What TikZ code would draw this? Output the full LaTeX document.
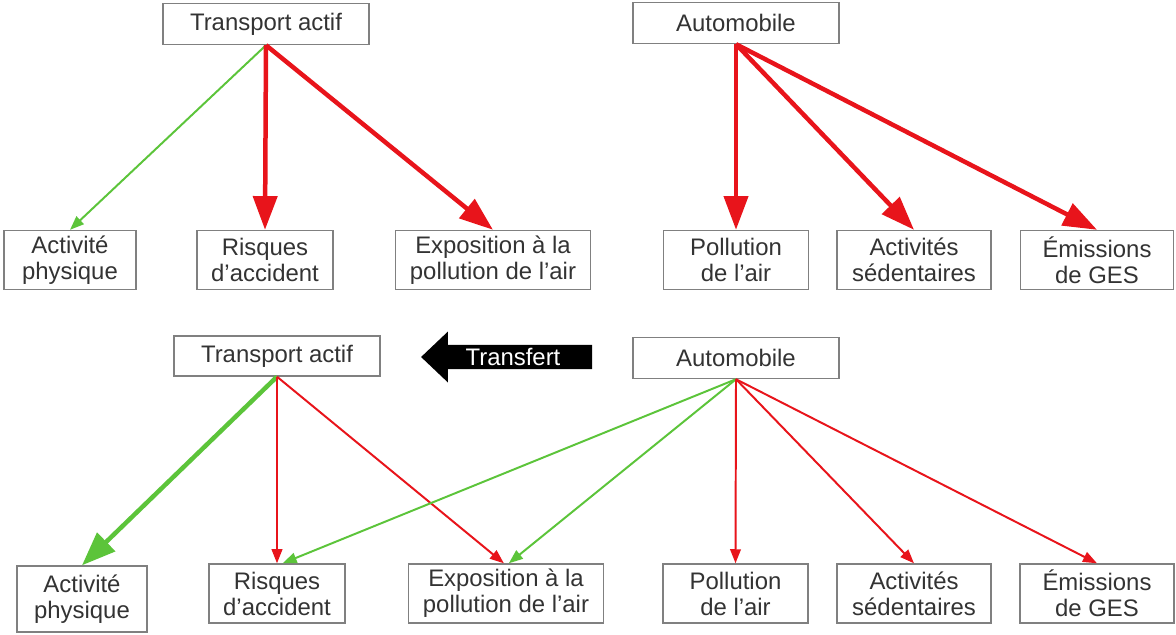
\documentclass[tikz,border=0pt]{standalone}
\usepackage{fontspec}
\setmainfont{Liberation Sans}
\usetikzlibrary{arrows.meta,shapes.arrows}
\definecolor{ink}{HTML}{333333}
\definecolor{boxline}{HTML}{808080}
\definecolor{gain}{HTML}{5CC43A}
\definecolor{harm}{HTML}{E8141B}
\newcommand{\boxfont}{\fontsize{17}{18.5}\selectfont}
\tikzset{
 every node/.append style={font=\boxfont,text=ink,align=center},
 box/.style={draw=boxline,fill=white,line width=1pt,inner sep=2pt},
 wd/.style={minimum width=#1*0.025cm},
 ht/.style={minimum height=#1*0.025cm},
 bigharm/.style={draw=harm,line width=3.2pt,-{Triangle[length=24pt,width=17pt]}},
 thinharm/.style={draw=harm,line width=1.4pt,-{Triangle[length=10pt,width=7.5pt]}},
 biggain/.style={draw=gain,line width=3.2pt,-{Triangle[length=24pt,width=18pt]}},
 thingain/.style={draw=gain,line width=1.4pt,-{Triangle[length=10pt,width=7.5pt]}},
 shiftarrow/.style={single arrow,shape border rotate=180,fill=black,text=white,
  minimum height=171*0.025cm,minimum width=51*0.025cm,single arrow head extend=13*0.025cm,
  single arrow tip angle=87,inner xsep=2pt,inner ysep=2pt},
}

\begin{document}
\begin{tikzpicture}[x=0.025cm,y=-0.025cm]

\useasboundingbox (0,0) rectangle (1176,634);
% before the shift
\node[box,wd=206,ht=41] (ta1) at (266,24) {Transport actif};
\node[box,wd=206,ht=41] (auto1) at (736,23) {Automobile};
\node[box,wd=132,ht=59] (phys1) at (70,260) {Activité\\physique};
\node[box,wd=136,ht=59] (risk1) at (265,260) {Risques\\d’accident};
\node[box,wd=195,ht=59] (expo1) at (493,260) {Exposition à la\\pollution de l’air};
\node[box,wd=145,ht=59] (poll1) at (736,260) {Pollution\\de l’air};
\node[box,wd=154,ht=59] (sed1) at (914,260) {Activités\\sédentaires};
\node[box,wd=153,ht=59] (ges1) at (1097,260) {Émissions\\de GES};
\draw[thingain] (ta1.south) -- (phys1.north);
\draw[bigharm] (ta1.south) -- (risk1.north); \draw[bigharm] (ta1.south) -- (expo1.north);
\draw[bigharm] (auto1.south) -- (poll1.north); \draw[bigharm] (auto1.south) -- (sed1.north);
\draw[bigharm] (auto1.south) -- (ges1.north);
% after the shift
\node[box,wd=206,ht=40] (ta2) at (277,356) {Transport actif};
\node[shiftarrow] (transfert) at (513,357) {Transfert};
\node[box,wd=206,ht=41] (auto2) at (736,358) {Automobile};
\node[box,wd=130,ht=66] (phys2) at (82,599) {Activité\\physique};
\node[box,wd=136,ht=59] (risk2) at (277,593.5) {Risques\\d’accident};
\node[box,wd=195,ht=59] (expo2) at (506,593.5) {Exposition à la\\pollution de l’air};
\node[box,wd=145,ht=59] (poll2) at (735.5,593.5) {Pollution\\de l’air};
\node[box,wd=154,ht=59] (sed2) at (914,593.5) {Activités\\sédentaires};
\node[box,wd=154,ht=59] (ges2) at (1097,593.5) {Émissions\\de GES};
\draw[biggain] (ta2.south) -- (phys2.north);
\draw[thinharm] (ta2.south) -- (risk2.north); \draw[thinharm] (ta2.south) -- ([xshift=-1.5pt]expo2.north);
\draw[thingain] (auto2.south) -- ([xshift=4pt]risk2.north); \draw[thingain] (auto2.south) -- ([xshift=2pt]expo2.north);
\draw[thinharm] (auto2.south) -- (poll2.north); \draw[thinharm] (auto2.south) -- (sed2.north);
\draw[thinharm] (auto2.south) -- (ges2.north);

\end{tikzpicture}
\end{document}
